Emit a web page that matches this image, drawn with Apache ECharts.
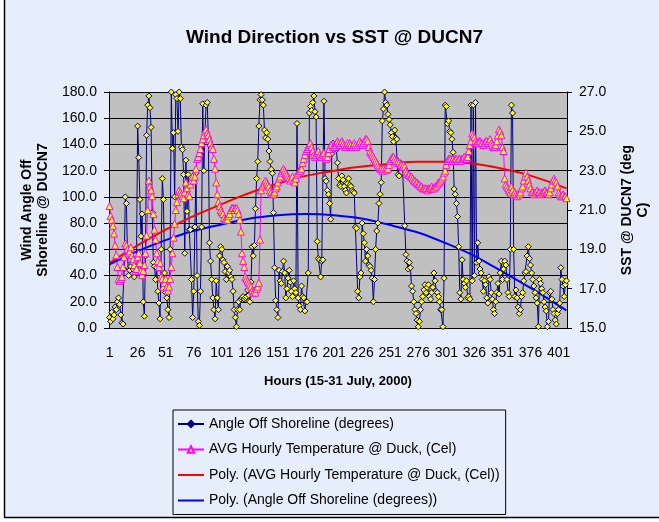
<!DOCTYPE html>
<html>
<head>
<meta charset="utf-8">
<script src="https://cdn.jsdelivr.net/npm/echarts@6/dist/echarts.min.js"></script>
<style>
  html, body { margin: 0; padding: 0; background: #fff; }
  #chart { width: 659px; height: 522px; }
</style>
</head>
<body>
<div id="chart"></div>
<script>
// hourly wind angle off shoreline (degrees), hours 1..408
var angle = [
  8, 5, 12, 7, 10, 16, 14, 20,
  23, 18, 10, 4, 3, 45, 100, 95,
  55, 40, 44, 47, 50, 45, 39, 46,
  52, 154, 130, 98, 70, 87, 20, 9,
  55, 147, 170, 177, 168, 153, 88, 50,
  47, 37, 46, 28, 19, 7, 60, 114,
  98, 42, 27, 23, 14, 8, 60, 180,
  137, 149, 100, 178, 175, 150, 180, 175,
  138, 136, 117, 57, 128, 89, 117, 75,
  75, 37, 8, 28, 77, 118, 40, 5,
  2, 28, 77, 171, 120, 150, 170, 172,
  145, 65, 51, 37, 23, 14, 7, 36,
  23, 14, 55, 62, 60, 52, 50, 43,
  37, 47, 42, 44, 39, 37, 28, 14,
  8, 1, 14, 20, 14, 22, 23, 24,
  22, 23, 24, 29, 25, 20, 35, 62,
  55, 63, 91, 114, 127, 154, 174, 178,
  174, 170, 151, 145, 149, 144, 135, 127,
  121, 118, 88, 46, 21, 14, 8, 44,
  36, 34, 43, 51, 42, 23, 30, 38,
  44, 35, 28, 24, 36, 30, 27, 156,
  23, 17, 14, 32, 24, 23, 13, 20,
  20, 42, 164, 169, 166, 172, 177, 165,
  161, 66, 53, 52, 39, 51, 52, 173,
  114, 112, 105, 102, 95, 83, 133, 141,
  138, 140, 136, 126, 114, 109, 108, 116,
  113, 108, 105, 103, 110, 114, 109, 108,
  105, 104, 103, 77, 76, 28, 23, 39,
  42, 80, 72, 65, 51, 60, 55, 48,
  47, 44, 38, 20, 37, 60, 74, 80,
  95, 102, 111, 158, 167, 180, 172, 170,
  163, 159, 155, 149, 146, 142, 151, 145,
  144, 117, 116, 126, 124, 122, 122, 78,
  56, 51, 45, 50, 46, 32, 28, 20,
  14, 11, 6, 1, 5, 14, 20, 24,
  29, 33, 27, 31, 33, 24, 22, 27,
  31, 42, 36, 28, 27, 24, 20, 14,
  14, 1, 38, 170, 169, 156, 158, 150,
  149, 144, 134, 106, 102, 95, 85, 62,
  27, 22, 52, 37, 34, 31, 36, 23,
  24, 22, 170, 36, 170, 40, 172, 50,
  65, 51, 45, 42, 37, 28, 36, 33,
  23, 19, 39, 37, 27, 22, 14, 11,
  20, 27, 34, 26, 42, 51, 37, 45,
  51, 48, 37, 27, 24, 60, 170, 164,
  60, 24, 29, 23, 16, 11, 14, 24,
  27, 36, 42, 43, 55, 62, 53, 48,
  42, 37, 32, 27, 23, 19, 1, 37,
  34, 30, 27, 20, 16, 13, 1, 5,
  27, 28, 22, 14, 11, 6, 3, 11,
  14, 19, 46, 37, 32, 24, 33, 36
];

// average hourly temperature at Duck (deg C), hours 1..408
var temp = [
  21.2, 20.7, 20.5, 20.2, 19.8, 19.2, 18.7, 18.1,
  17.5, 17.4, 17.5, 17.6, 18.1, 18.6, 19.3, 19.2,
  19.0, 18.8, 18.9, 19.1, 18.7, 18.5, 18.2, 17.9,
  18.0, 18.6, 18.8, 18.3, 17.9, 17.7, 17.9, 18.2,
  18.8, 19.7, 21.0, 22.5, 22.2, 22.0, 21.7, 20.8,
  20.0, 19.5, 18.8, 18.4, 18.1, 18.3, 17.6, 17.5,
  17.1, 17.3, 17.5, 17.1, 16.9, 17.1, 17.5, 18.1,
  18.8, 19.6, 20.3, 21.0, 21.4, 21.8, 22.0, 21.9,
  21.8, 21.7, 21.6, 21.9, 22.4, 22.1, 21.8, 21.7,
  22.3, 22.5, 22.7, 22.5, 22.7, 23.1, 23.6, 23.7,
  23.9, 24.1, 24.4, 24.6, 24.8, 25.0, 25.1, 24.9,
  24.8, 24.6, 24.4, 24.2, 24.1, 23.6, 23.1, 22.4,
  21.8, 21.4, 21.2, 21.0, 20.9, 20.8, 20.6, 20.5,
  20.5, 20.5, 20.7, 20.8, 21.0, 21.1, 21.1, 21.0,
  21.1, 21.1, 21.0, 20.8, 20.5, 19.9, 18.8, 18.4,
  18.1, 17.6, 17.5, 17.4, 17.3, 17.2, 17.1, 16.9,
  16.8, 16.9, 16.8, 17.0, 17.1, 17.3, 19.5, 22.0,
  22.2, 22.3, 22.4, 22.5, 22.4, 22.3, 22.2, 22.0,
  21.9, 21.8, 21.8, 21.9, 22.1, 22.2, 22.4, 22.6,
  22.7, 22.9, 23.0, 23.1, 23.0, 22.9, 22.8, 22.7,
  22.6, 22.5, 22.6, 22.7, 22.5, 22.4, 22.6, 22.8,
  22.9, 23.0, 23.0, 23.1, 23.4, 23.6, 23.8, 24.0,
  24.1, 24.2, 24.3, 24.4, 24.2, 24.0, 23.8, 23.7,
  23.8, 23.9, 24.0, 23.8, 23.7, 23.7, 23.8, 23.9,
  23.7, 23.6, 23.7, 23.9, 24.1, 24.3, 24.3, 24.2,
  24.2, 24.3, 24.4, 24.5, 24.4, 24.3, 24.4, 24.5,
  24.4, 24.3, 24.2, 24.3, 24.4, 24.3, 24.4, 24.3,
  24.2, 24.3, 24.4, 24.3, 24.2, 24.3, 24.4, 24.5,
  24.4, 24.3, 24.4, 24.5, 24.6, 24.6, 24.5, 24.2,
  24.0, 23.9, 23.8, 23.7, 23.6, 23.5, 23.4, 23.3,
  23.2, 23.1, 23.1, 23.0, 23.1, 23.0, 23.1, 23.05,
  23.1, 23.3, 23.5, 23.6, 23.7, 23.7, 23.6, 23.5,
  23.4, 23.5, 23.4, 23.3, 23.3, 23.2, 23.3, 23.2,
  23.0, 22.9, 22.8, 22.8, 22.7, 22.7, 22.6, 22.5,
  22.5, 22.4, 22.4, 22.3, 22.3, 22.2, 22.2, 22.1,
  22.1, 22.1, 22.1, 22.0, 22.1, 22.1, 22.1, 22.2,
  22.1, 22.1, 22.2, 22.2, 22.3, 22.4, 22.4, 22.5,
  22.6, 22.7, 22.9, 23.0, 23.3, 23.5, 23.6, 23.6,
  23.6, 23.5, 23.6, 23.5, 23.6, 23.6, 23.5, 23.6,
  23.6, 23.5, 23.6, 23.6, 23.7, 23.6, 23.6, 23.7,
  24.0, 24.3, 24.5, 24.9, 24.8, 24.7, 24.5, 24.4,
  24.4, 24.5, 24.5, 24.4, 24.4, 24.3, 24.4, 24.5,
  24.5, 24.4, 24.5, 24.6, 24.4, 24.3, 24.2, 24.2,
  24.3, 24.5, 24.8, 25.1, 25.0, 24.8, 24.2, 24.0,
  22.6, 22.3, 22.2, 22.1, 22.0, 21.9, 22.2, 22.0,
  21.8, 21.9, 21.8, 21.7, 21.8, 21.8, 21.9, 22.1,
  22.2, 22.5, 22.7, 22.9, 22.7, 22.5, 22.3, 22.1,
  21.9, 21.9, 21.8, 21.9, 21.9, 22.0, 21.9, 21.9,
  21.8, 21.9, 21.9, 21.9, 22.0, 21.9, 21.9, 21.8,
  21.9, 22.1, 22.3, 22.5, 22.6, 22.5, 22.4, 22.2,
  21.9, 21.8, 21.7, 21.7, 21.8, 21.7, 21.7, 21.6
];

// polynomial trend lines at a few hours
var trendHours = [1, 51, 101, 151, 176, 201, 251, 301, 351, 408];
var angleTrend = [48.5, 67, 79, 86, 87, 86, 78.5, 64.5, 43, 13.5];
var tempTrendHours = [1, 51, 101, 151, 201, 251, 276, 301, 326, 351, 376, 408];
var tempTrend = [18.3, 20.0, 21.3, 22.35, 23.0, 23.35, 23.45, 23.45, 23.35, 23.1, 22.75, 22.1];

var hours = angle.map(function (v, i) { return String(i + 1); });
var leftTicks = [0, 180, 20];
var rightTicks = [15, 27, 2];

var names = {
  angle: 'Angle Off Shoreline (degrees)',
  temp: 'AVG Hourly Temperature @ Duck, (Cel)',
  tempPoly: 'Poly. (AVG Hourly Temperature @ Duck, (Cel))',
  anglePoly: 'Poly. (Angle Off Shoreline (degrees))'
};

function pairs(hs, vs) {
  return hs.map(function (h, i) { return [h - 1, vs[i]]; });
}

// plain line legend marker for the trend lines
var lineIcon = 'path://M0,0L0.01,0M0,3L26,3L26,5L0,5ZM26,8L25.99,8';

var font = 'Arial, "Liberation Sans", sans-serif';
var chart = echarts.init(document.getElementById('chart'));

chart.setOption({
  animation: false,
  backgroundColor: '#fff',
  textStyle: { fontFamily: font, color: '#000' },
  graphic: [
    { type: 'rect', z: -10, silent: true,
      shape: { x: 4, y: 0, width: 660, height: 517 },
      style: { fill: '#E6EDFB', stroke: null } },
    { type: 'line', z: 10, silent: true,
      shape: { x1: 4.5, y1: 0, x2: 4.5, y2: 517 },
      style: { stroke: '#000', lineWidth: 1.5 } },
    { type: 'line', z: 10, silent: true,
      shape: { x1: 4, y1: 517.5, x2: 659, y2: 517.5 },
      style: { stroke: '#000', lineWidth: 1.5 } },
    { type: 'text', z: 10, left: 186, top: 28,
      style: { text: 'Wind Direction vs SST @ DUCN7', font: 'bold 19px ' + font, fill: '#000' } }
  ],
  grid: {
    left: 109, right: 89, top: 92, bottom: 194,
    show: true, backgroundColor: '#C0C0C0', borderWidth: 0
  },
  legend: {
    orient: 'vertical',
    left: 173, top: 410,
    padding: [7, 6, 7, 4],
    itemGap: 11.5,
    itemWidth: 26, itemHeight: 8,
    borderColor: '#000', borderWidth: 1,
    backgroundColor: '#E6EDFB',
    textStyle: { fontSize: 14, fontFamily: font, color: '#000' },
    data: [
      { name: names.angle, itemStyle: { color: '#000080', borderColor: '#000080' } },
      { name: names.temp },
      { name: names.tempPoly, icon: lineIcon, itemStyle: { color: '#FF0000', borderWidth: 0 } },
      { name: names.anglePoly, icon: lineIcon, itemStyle: { color: '#0000FF', borderWidth: 0 } }
    ]
  },
  xAxis: {
    type: 'category',
    data: hours,
    boundaryGap: true,
    name: 'Hours (15-31 July, 2000)',
    nameLocation: 'middle',
    nameGap: 47,
    nameTextStyle: { fontWeight: 'bold', fontSize: 13, color: '#000' },
    axisLine: { lineStyle: { color: '#000', width: 1 } },
    axisTick: { interval: 2, length: 4, lineStyle: { color: '#000' } },
    axisLabel: { interval: 24, fontSize: 14, color: '#000', margin: 18 },
    splitLine: { show: false }
  },
  yAxis: [
    {
      type: 'value',
      min: leftTicks[0], max: leftTicks[1], interval: leftTicks[2],
      name: 'Wind Angle Off\nShoreline @ DUCN7',
      nameLocation: 'middle',
      nameRotate: 90,
      nameGap: 55,
      nameTextStyle: { fontWeight: 'bold', fontSize: 14, color: '#000', lineHeight: 16 },
      axisLine: { show: true, lineStyle: { color: '#000', width: 1 } },
      axisTick: { show: true, length: 5, lineStyle: { color: '#000' } },
      axisLabel: { fontSize: 14, color: '#000', margin: 12,
        formatter: function (v) { return v.toFixed(1); } },
      splitLine: { show: true, lineStyle: { color: '#000', width: 1 } }
    },
    {
      type: 'value',
      min: rightTicks[0], max: rightTicks[1], interval: rightTicks[2],
      name: 'SST @ DUCN7 (deg\nC)',
      nameLocation: 'middle',
      nameRotate: 90,
      nameGap: 52,
      nameTextStyle: { fontWeight: 'bold', fontSize: 14, color: '#000', lineHeight: 16 },
      axisLine: { show: true, lineStyle: { color: '#000', width: 1 } },
      axisTick: { show: true, length: 5, lineStyle: { color: '#000' } },
      axisLabel: { fontSize: 14, color: '#000', margin: 12,
        formatter: function (v) { return v.toFixed(1); } },
      splitLine: { show: false }
    }
  ],
  series: [
    {
      name: names.angle,
      type: 'line',
      yAxisIndex: 0,
      data: angle,
      symbol: 'diamond',
      symbolSize: 6,
      showAllSymbol: true,
      lineStyle: { color: '#000080', width: 1 },
      itemStyle: { color: '#FFFF00', borderColor: '#000080', borderWidth: 1 }
    },
    {
      name: names.temp,
      type: 'line',
      yAxisIndex: 1,
      data: temp,
      symbol: 'triangle',
      symbolSize: 7,
      showAllSymbol: true,
      lineStyle: { color: '#FF00FF', width: 1 },
      itemStyle: { color: '#FFFF00', borderColor: '#FF00FF', borderWidth: 1 }
    },
    {
      name: names.tempPoly,
      type: 'line',
      yAxisIndex: 1,
      data: pairs(tempTrendHours, tempTrend),
      smooth: true,
      symbol: 'none',
      lineStyle: { color: '#FF0000', width: 2 },
      itemStyle: { color: '#FF0000' }
    },
    {
      name: names.anglePoly,
      type: 'line',
      yAxisIndex: 0,
      data: pairs(trendHours, angleTrend),
      smooth: true,
      symbol: 'none',
      lineStyle: { color: '#0000FF', width: 2 },
      itemStyle: { color: '#0000FF' }
    }
  ]
});
</script>
</body>
</html>
